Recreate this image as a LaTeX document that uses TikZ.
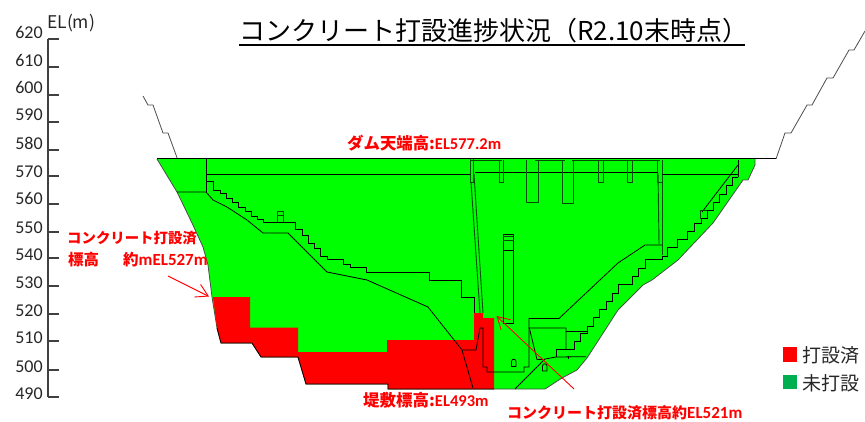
\documentclass[tikz,border=0pt]{standalone}
\usepackage{fontspec}
\setmainfont{Carlito}
\newfontfamily\jpfont{Noto Sans CJK JP}
\usetikzlibrary{arrows.meta}
\definecolor{dgreen}{RGB}{0,255,0}
\definecolor{lgreen}{RGB}{0,176,80}
\tikzset{axis/.style = {draw=black!75,line width=1.3pt}}
\tikzset{elev/.style = {font=\fontsize{18}{18}\selectfont,text=black!85,inner sep=0pt}}
\tikzset{damline/.style = {draw=black,line width=0.8pt}}
\tikzset{pier/.style = {draw=black!70!green,line width=0.9pt}}
\tikzset{ground/.style = {draw=black!70,line width=0.8pt}}
\tikzset{note/.style = {text=red,inner sep=0pt,anchor=west,font=\jpfont\bfseries\fontsize{15}{15}\selectfont}}
\tikzset{arrownote/.style = {draw=red,line width=0.9pt,-{Straight Barb[length=12pt,width=14pt]}}}
\tikzset{legendtext/.style = {text=black!85,inner sep=0pt,anchor=west,font=\jpfont\fontsize{19}{19}\selectfont}}

\begin{document}
\begin{tikzpicture}[x=1pt,y=-1pt]
        \useasboundingbox (0,0) rectangle (865,422);

        % title
        \node[inner sep=0pt,anchor=west,text=black,font=\jpfont\fontsize{26}{26}\selectfont] (title) at (239,31) {コンクリート打設進捗状況（R2.10末時点）};
        \coordinate (titleL) at (239,45);
        \coordinate (titleR) at (745,45);
        \draw[line width=1.1pt] (titleL) to (titleR);

        % elevation axis
        \coordinate (t620) at (48,39);
        \coordinate (t610) at (48,67);
        \coordinate (t600) at (48,95);
        \coordinate (t590) at (48,122);
        \coordinate (t580) at (48,150);
        \coordinate (t570) at (48,176);
        \coordinate (t560) at (48,204);
        \coordinate (t550) at (48,232);
        \coordinate (t540) at (48,258);
        \coordinate (t530) at (48,286);
        \coordinate (t520) at (48,314);
        \coordinate (t510) at (48,341);
        \coordinate (t500) at (48,370);
        \coordinate (t490) at (48,397);
        \draw[axis] (t620) to (t490);
        \draw[axis] (t620) to +(11,0);
        \draw[axis] (t610) to +(11,0);
        \draw[axis] (t600) to +(11,0);
        \draw[axis] (t590) to +(11,0);
        \draw[axis] (t580) to +(11,0);
        \draw[axis] (t570) to +(11,0);
        \draw[axis] (t560) to +(11,0);
        \draw[axis] (t550) to +(11,0);
        \draw[axis] (t540) to +(11,0);
        \draw[axis] (t530) to +(11,0);
        \draw[axis] (t520) to +(11,0);
        \draw[axis] (t510) to +(11,0);
        \draw[axis] (t500) to +(11,0);
        \draw[axis] (t490) to +(11,0);
        \node[elev] (l620) at (29,32) {620};
        \node[elev] (l610) at (29,60) {610};
        \node[elev] (l600) at (29,87) {600};
        \node[elev] (l590) at (29,115) {590};
        \node[elev] (l580) at (29,143) {580};
        \node[elev] (l570) at (29,172) {570};
        \node[elev] (l560) at (29,198) {560};
        \node[elev] (l550) at (29,228) {550};
        \node[elev] (l540) at (29,255) {540};
        \node[elev] (l530) at (29,283) {530};
        \node[elev] (l520) at (29,311) {520};
        \node[elev] (l510) at (29,338) {510};
        \node[elev] (l500) at (29,367) {500};
        \node[elev] (l490) at (29,394) {490};
        \node[inner sep=0pt,anchor=west,text=black!85,font=\jpfont\fontsize{17.5}{18}\selectfont] (unit) at (47,23) {EL(m)};

        % abutments
        \draw[ground] (143,96) -- (148,105) -- (153,105) -- (163,133) -- (168,133) -- (177.5,159);
        \draw[ground] (776,159) -- (785,133) -- (791,133) -- (807,105) -- (812,105) -- (827,78) -- (833,78) -- (849,50) -- (854,50) -- (865,31);

        % dam body
        \fill[dgreen] (157,159) -- (177,192) -- (192,223) -- (203,247) -- (208,265) -- (212,297) -- (217,328) -- (221,343)
          -- (252,343) -- (261,357) -- (298,357) -- (306,384) -- (388,384) -- (388,389) -- (545,389) -- (562,378) -- (577,370)
          -- (587,358) -- (618,310) -- (643,285) -- (652,280) -- (678,260) -- (713,223) -- (743,180) -- (748,180) -- (755,165) -- (755,159) -- cycle;
        \draw[ground] (157,159) -- (177,192) -- (192,223) -- (203,247) -- (208,265) -- (212,297) -- (217,328) -- (221,343)
          -- (252,343) -- (261,357) -- (298,357) -- (306,384) -- (388,384) -- (388,389) -- (545,389) -- (562,378) -- (577,370)
          -- (587,358) -- (618,310) -- (643,285) -- (652,280) -- (678,260) -- (713,223) -- (743,180) -- (748,180) -- (755,165) -- (755,159);

        % placed concrete
        \fill[red] (213,297) -- (250,297) -- (250,327.5) -- (298,327.5) -- (298,352) -- (387,352) -- (387,340) -- (474,340)
          -- (474,313) -- (483,313) -- (483,318) -- (494,318) -- (494,389) -- (388,389) -- (388,384) -- (306,384) -- (298,357)
          -- (261,357) -- (252,343) -- (221,343) -- (217,328) -- cycle;
        \draw[damline] (217,328) -- (221,343) -- (252,343) -- (261,357) -- (298,357) -- (306,384) -- (388,384) -- (388,389) -- (494,389);

        % crest and inner lines, left side
        \draw[damline,line width=1pt] (157,159) -- (776,159);
        \draw[damline] (206,159) -- (206,192);
        \draw[damline] (206,174.3) -- (470,174.3);
        \draw[damline] (177,192) -- (206,192) -- (213,200) -- (227,207) -- (247,220) -- (263,233) -- (288,233) -- (327,272)
          -- (367,280) -- (428,307) -- (462,350) -- (473,388);
        \draw[damline] (206,181) -- (213,181) -- (213,190) -- (220,190) -- (220,193) -- (226,193) -- (226,198) -- (232,198)
          -- (232,202) -- (238,202) -- (238,207) -- (245,207) -- (245,211) -- (251,211) -- (251,216) -- (257,216) -- (257,219)
          -- (263,219) -- (263,222) -- (295,222) -- (295,229) -- (302,229) -- (302,235) -- (308,235) -- (308,243) -- (314,243)
          -- (314,248) -- (320,248) -- (320,256) -- (327,256) -- (327,259) -- (343.5,259) -- (343.5,264) -- (350,264) -- (350,267)
          -- (366.5,267) -- (366.5,272) -- (429.5,272) -- (429.5,280) -- (461,280) -- (461,297) -- (474,297) -- (474,313);
        \draw[pier] (277,222) -- (277,211.5) -- (283,211.5) -- (283,222);
        \draw[pier] (277,215) -- (283,215);

        % central block and piers
        \draw[pier] (470,159) -- (470,182) -- (473,182) -- (473,159);
        \draw[pier] (471,182) -- (480,313);
        \draw[pier] (474,174) -- (483,313);
        \draw[damline] (475,172) -- (657,172);
        \draw[pier,line width=1.4pt] (470,160.5) -- (502,160.5);
        \draw[pier,line width=1.4pt] (535,160.5) -- (565,160.5);
        \draw[pier,line width=1.4pt] (572,160.5) -- (660,160.5);
        \draw[pier] (499,160) -- (499,182) -- (503,182) -- (503,160);
        \draw[pier] (526,160) -- (526,202) -- (538,202) -- (538,160);
        \draw[pier] (562,160) -- (562,203) -- (573,203) -- (573,160);
        \draw[pier] (598,160) -- (598,182) -- (603,182) -- (603,160);
        \draw[pier] (627,160) -- (627,182) -- (632,182) -- (632,160);
        \draw[pier] (657,160) -- (657,182) -- (662,182) -- (662,160);
        \draw[pier] (658,172) -- (659,244);
        \draw[pier] (662,182) -- (662,255);

        % shaft and galleries
        \draw[damline] (503,323) -- (503,234) -- (513,234) -- (513,323) -- cycle;
        \draw[pier] (503,236.5) -- (513,236.5);
        \draw[pier] (503,240) -- (513,240);
        \draw[damline] (503,250) -- (513,250);
        \draw[damline] (462,350) -- (476,350) -- (480,328) -- (483,328) -- (483,367) -- (487,367) -- (487,372) -- (524,372) -- (524,367) -- (529,367) -- (529,318.5)
          -- (559,318.5) -- (618,263) -- (645,245) -- (662,245);
        \draw[damline] (511.5,366.5) -- (511.5,361.5) arc[start angle=180,end angle=360,radius=2.25] -- (516,366.5) -- cycle;
        \draw[damline] (542.5,371) -- (542.5,366) arc[start angle=180,end angle=360,radius=2.25] -- (547,371) -- cycle;
        \draw[damline] (568,355.5) -- (568,358.5);

        % right side
        \draw[damline] (662,174.3) -- (738,174.3);
        \draw[damline] (738,160) -- (738,177);
        \draw[damline] (738,165) -- (702,212);
        \draw[pier] (700,210) -- (700,218) -- (707,218) -- (707,210) -- cycle;
        \draw[damline] (738,177) -- (732,177) -- (732,185) -- (726,185) -- (726,194) -- (719,194) -- (719,202) -- (713,202) -- (713,210)
          -- (707,210) -- (707,218) -- (701,218) -- (701,223) -- (694,223) -- (694,231) -- (687,231) -- (687,239) -- (677,239) -- (677,247)
          -- (667,247) -- (667,256) -- (662,256) -- (662,259.5) -- (645,259.5) -- (645,268) -- (638,268) -- (638,276) -- (632,276) -- (632,284)
          -- (618,284) -- (618,293) -- (612,293) -- (612,301) -- (606,301) -- (606,309) -- (599,309) -- (599,317) -- (593,317) -- (593,326)
          -- (587,326) -- (587,333) -- (580,333) -- (580,341) -- (574,341) -- (574,349) -- (556,349) -- (556,357);
        \draw[damline] (515,389) -- (545,359) -- (556,357) -- (586,356.7);
        \draw[damline] (543,359.5) -- (537,359.5) -- (529.3,328) -- (566,328) -- (566,349);
        \draw[damline] (566,331) -- (587,331);

        % notes
        \node[note,font=\jpfont\bfseries\fontsize{16.4}{16}\selectfont] (crest) at (347,143) {ダム天端高:{\rmfamily\bfseries\fontsize{16.5}{16}\selectfont EL577.2m}};
        \node[note,font=\jpfont\bfseries\fontsize{14.4}{14}\selectfont] (doneA) at (67,238) {コンクリート打設済};
        \node[note,font=\jpfont\bfseries\fontsize{15.5}{15}\selectfont] (doneB) at (68,260) {標高\hspace{24pt}約{\rmfamily\bfseries\fontsize{17}{15}\selectfont mEL527m}};
        \node[note,font=\jpfont\bfseries\fontsize{16.5}{16}\selectfont] (base) at (363,400) {堤敷標高:{\rmfamily\bfseries\fontsize{16.5}{16}\selectfont EL493m}};
        \node[note] (doneC) at (507,413) {コンクリート打設済標高約{\rmfamily\bfseries\fontsize{17}{15}\selectfont EL521m}};
        \coordinate (tipA) at (209,296.5);
        \coordinate (tailA) at (168,276);
        \coordinate (tipC) at (496.5,316);
        \coordinate (tailC) at (574,389);
        \draw[arrownote] (tailA) to (tipA);
        \draw[arrownote] (tailC) to (tipC);

        % legend
        \node[fill=red,minimum size=14.5pt,inner sep=0pt] (keydone) at (790,354.5) {};
        \node[fill=lgreen,minimum size=14.5pt,inner sep=0pt] (keytodo) at (790,382) {};
        \node[legendtext] (textdone) at (802,355) {打設済};
        \node[legendtext] (texttodo) at (802,383) {未打設};
      \end{tikzpicture}
\end{document}
